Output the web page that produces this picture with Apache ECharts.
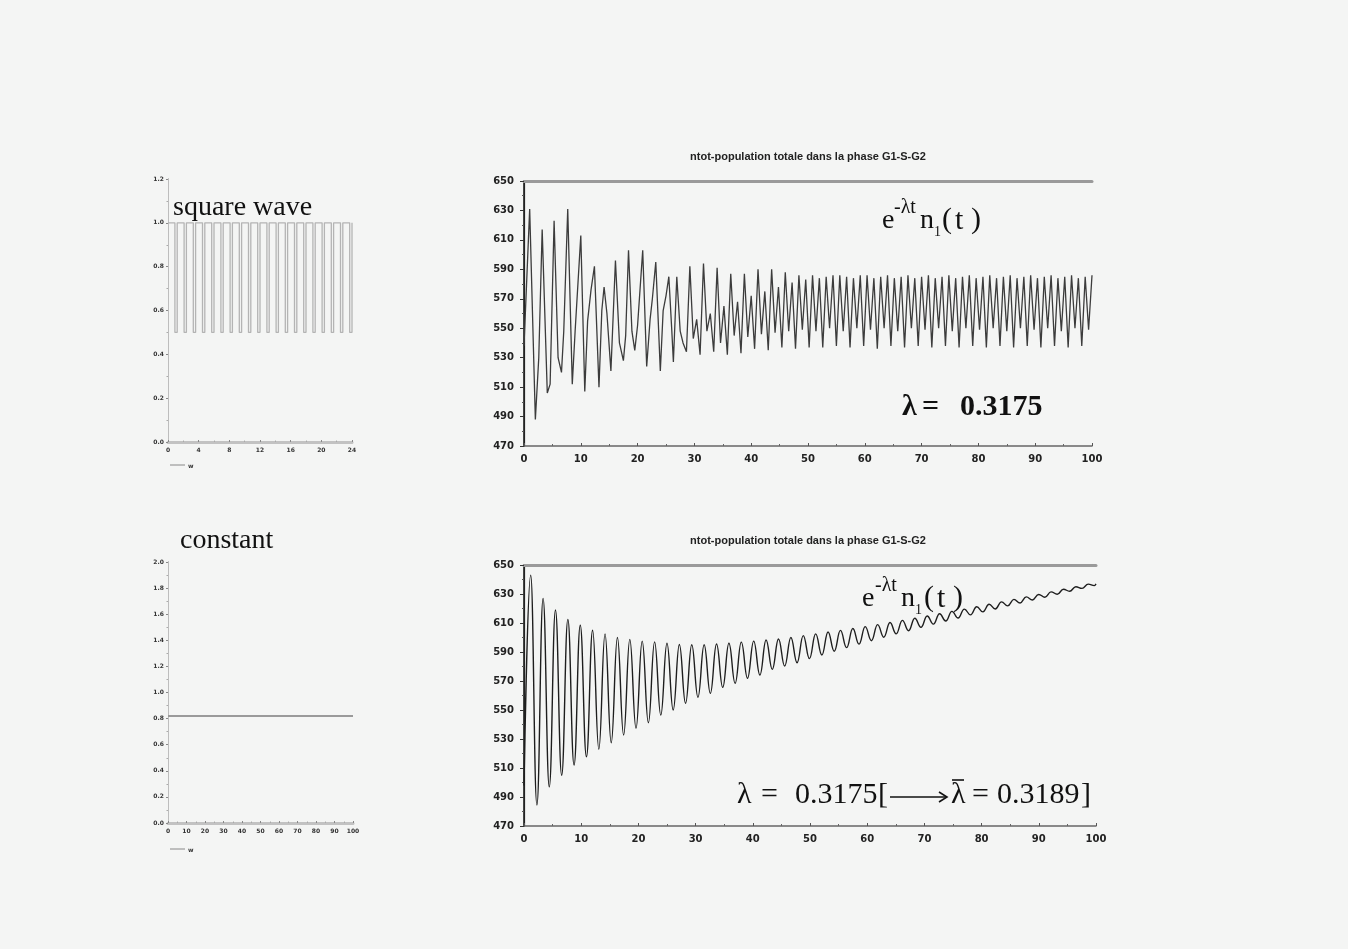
<!DOCTYPE html>
<html>
<head>
<meta charset="utf-8">
<script src="https://cdn.jsdelivr.net/npm/echarts@6/dist/echarts.min.js"></script>
<style>
  html, body { margin: 0; padding: 0; background: #f4f5f4; }
  #chart { width: 1348px; height: 949px; }
</style>
</head>
<body>
<div id="chart"></div>
<script>
// ---------- data ----------
// forcing signal: square wave sampled every 0.3 time units over [0, 24]
const squareStep = 0.3;
const squareLevels = [
  1,1,1,0.5, 1,1,1,0.5, 1,1,1,0.5, 1,1,1,0.5, 1,1,1,0.5,
  1,1,1,0.5, 1,1,1,0.5, 1,1,1,0.5, 1,1,1,0.5, 1,1,1,0.5,
  1,1,1,0.5, 1,1,1,0.5, 1,1,1,0.5, 1,1,1,0.5, 1,1,1,0.5,
  1,1,1,0.5, 1,1,1,0.5, 1,1,1,0.5, 1,1,1,0.5, 1,1,1,0.5,
  1
];
// constant forcing
const constantLevel = 0.82;

// e^{-lambda t} n1(t) under the square-wave forcing
// first part: irregular turning points [t, value]
const topEarly = [
  [0,538],[1.0,631],[2.0,488],[2.6,530],[3.2,617],[4.1,506],[4.6,512],[5.3,623],
  [6.0,530],[6.6,520],[7.0,548],[7.7,631],[8.5,512],[9.0,548],[10.0,613],[10.7,507],
  [11.2,555],[11.8,576],[12.4,592],[13.2,510],[13.7,562],[14.1,578],[14.6,560],[15.3,521],
  [16.1,596],[16.8,540],[17.5,528],[17.9,545],[18.4,603],[19.0,548],[19.5,535],[20.0,552],
  [20.9,603],[21.6,524],[22.2,556],[22.6,570],[23.2,595],[24.0,521],[24.5,562],[25.0,572],
  [25.5,585],[26.0,550],[26.3,527],[26.9,585],[27.5,548],[28.0,540],[28.6,534]
];
// second part: values every 0.6 time units starting at t = 29.2
// (main peak, low, secondary peak, low) repeating
const topGridStart = 29.2;
const topGridStep = 0.6;
const topGridValues = [
  592,543,556,532, 594,548,560,534, 591,540,565,532, 587,545,568,533,
  587,544,572,536, 590,546,575,535, 590,547,578,537, 588,548,581,536,
  586,549,583,537, 586,548,584,537, 585,550,586,538, 586,548,585,537,
  584,550,586,538, 586,549,584,536, 585,550,586,538, 584,548,585,537,
  586,550,584,538, 585,549,586,537, 584,550,585,538, 586,548,584,537,
  585,550,586,538, 584,549,585,537, 586,550,584,538, 585,548,586,537,
  584,550,585,538, 586,549,584,537, 585,550,586,538, 584,548,585,537,
  586,550,584,538, 585,549,586
];

// e^{-lambda t} n1(t) under the constant forcing
const botStart = [0, 498];
const botFirstT = 1.17;      // first maximum
const botHalfPeriod = 1.083; // spacing between successive extrema
const botExtrema = [
  643,484.5, 627,497, 619,505, 612.5,512, 608.5,517.8, 605,522.9, 602.5,527.4, 600,532.8,
  598.7,537.4, 597.5,541.2, 597,546.5, 596,550, 595.2,554.6, 595,558.8, 595,561.5, 595.5,565.6,
  596,568.4, 596.8,571.9, 597.5,574.1, 598.3,578, 599,580.3, 600,582.6, 601.3,585.4, 602.5,587.9,
  603.8,590.5, 604.9,593, 606.2,595.4, 607.5,597.8, 608.9,600.2, 610.3,602.5, 611.8,604.7, 613.3,607,
  614.8,609.2, 616.4,611.4, 618,613.4, 619.6,615.6, 621.2,617.7, 622.9,619.7, 624.6,621.8, 626.3,623.8,
  628,625.9, 629.7,627.8, 631.5,629.8, 633.3,631.9, 635,633.9, 636.8,635.8
];
const botEnd = [100, 637];

// axis ticks
const smallTopX = { min: 0, max: 24, interval: 4 };
const smallTopY = { min: 0, max: 1.2, interval: 0.2 };
const smallBotX = { min: 0, max: 100, interval: 10 };
const smallBotY = { min: 0, max: 2, interval: 0.2 };
const bigX = { min: 0, max: 100, interval: 10 };
const bigY = { min: 470, max: 650, interval: 20 };

const plotTitle = 'ntot-population totale dans la phase G1-S-G2';

// ---------- series construction ----------
const squareData = squareLevels.map((v, i) => [+(i * squareStep).toFixed(2), v]);
const constantData = [[0, constantLevel], [100, constantLevel]];
const topData = topEarly.concat(
  topGridValues.map((v, i) => [+(topGridStart + i * topGridStep).toFixed(2), v])
);
const botData = [botStart].concat(
  botExtrema.map((v, i) => [+(botFirstT + i * botHalfPeriod).toFixed(3), v]),
  [botEnd]
);

// ---------- axes helpers ----------
function smallX(grid, r) {
  return {
    type: 'value', gridIndex: grid, min: r.min, max: r.max, interval: r.interval,
    axisLine: { lineStyle: { color: '#8a8a8a', width: 1 } },
    axisTick: { inside: true, length: 2, lineStyle: { color: '#888' } },
    minorTick: { show: true, splitNumber: 2, length: 1.5, lineStyle: { color: '#aaa' } },
    axisLabel: { fontSize: 6, color: '#333', margin: 5, fontFamily: 'DejaVu Sans', fontWeight: 'bold',
                 formatter: v => String(v) },
    splitLine: { show: false }
  };
}
function smallY(grid, r) {
  return {
    type: 'value', gridIndex: grid, min: r.min, max: r.max, interval: r.interval,
    axisLine: { show: true, lineStyle: { color: '#8a8a8a', width: 1 } },
    axisTick: { show: true, inside: false, length: 2, lineStyle: { color: '#888' } },
    minorTick: { show: true, splitNumber: 2, length: 1.5, lineStyle: { color: '#aaa' } },
    axisLabel: { fontSize: 6, color: '#333', margin: 4, fontFamily: 'DejaVu Sans', fontWeight: 'bold',
                 formatter: v => v.toFixed(1) },
    splitLine: { show: false }
  };
}
function bigXAxis(grid) {
  return {
    type: 'value', gridIndex: grid, min: bigX.min, max: bigX.max, interval: bigX.interval,
    axisLine: { lineStyle: { color: '#666', width: 1.5 } },
    axisTick: { inside: true, length: 3, lineStyle: { color: '#555' } },
    minorTick: { show: true, splitNumber: 2, length: 2, lineStyle: { color: '#666' } },
    axisLabel: { fontSize: 10, color: '#222', margin: 8, fontFamily: 'DejaVu Sans', fontWeight: 'bold' },
    splitLine: { show: false }
  };
}
function bigYAxis(grid) {
  return {
    type: 'value', gridIndex: grid, min: bigY.min, max: bigY.max, interval: bigY.interval,
    axisLine: { show: true, lineStyle: { color: '#111', width: 1.5 } },
    axisTick: { show: true, length: 4, lineStyle: { color: '#333' } },
    minorTick: { show: true, splitNumber: 2, length: 2, lineStyle: { color: '#555' } },
    axisLabel: { fontSize: 10, color: '#222', margin: 10, fontFamily: 'DejaVu Sans', fontWeight: 'bold' },
    splitLine: { show: false }
  };
}
function frameX(grid, r, color, width) {
  return {
    type: 'value', gridIndex: grid, position: 'top', min: r.min, max: r.max,
    axisLine: { lineStyle: { color: color, width: width } },
    axisTick: { show: false }, axisLabel: { show: false }, splitLine: { show: false }
  };
}
function frameY(grid, r, color, width) {
  return {
    type: 'value', gridIndex: grid, position: 'right', min: r.min, max: r.max,
    axisLine: { show: true, lineStyle: { color: color, width: width } },
    axisTick: { show: false }, axisLabel: { show: false }, splitLine: { show: false }
  };
}

// ---------- text helpers ----------
const SERIF = '"Liberation Serif", "DejaVu Serif", serif';
function txt(x, y, s, size, opts) {
  opts = opts || {};
  return {
    type: 'text', x: x, y: y, z: 100,
    style: {
      text: s,
      font: (opts.weight || 'normal') + ' ' + size + 'px ' + (opts.family || SERIF),
      fill: opts.fill || '#111',
      align: opts.align || 'left',
      verticalAlign: 'middle'
    }
  };
}
function seg(x1, y1, x2, y2, color, w) {
  return { type: 'line', z: 100, shape: { x1: x1, y1: y1, x2: x2, y2: y2 },
           style: { stroke: color || '#111', lineWidth: w || 1.5 } };
}

const graphics = [
  // plot titles
  txt(808, 157, plotTitle, 11, { weight: 'bold', family: '"Liberation Sans", Arial, sans-serif', align: 'center', fill: '#222' }),
  txt(808, 541, plotTitle, 11, { weight: 'bold', family: '"Liberation Sans", Arial, sans-serif', align: 'center', fill: '#222' }),

  // forcing captions
  txt(173, 208, 'square wave', 28),
  txt(180, 541, 'constant', 28),

  // small legend marks under the forcing plots
  seg(170, 465, 185, 465, '#888', 1),
  txt(188, 466, 'w', 6, { weight: 'bold', family: 'DejaVu Sans', fill: '#333' }),
  seg(170, 849, 185, 849, '#888', 1),
  txt(188, 850, 'w', 6, { weight: 'bold', family: 'DejaVu Sans', fill: '#333' }),

  // e^{-λt} n1(t), upper plot
  txt(882, 221, 'e', 28),
  txt(894, 208, '-λt', 20),
  txt(920, 221, 'n', 28),
  txt(934, 232, '1', 14),
  txt(942, 220, '(', 30),
  txt(955, 221, 't', 30),
  txt(971, 220, ')', 30),

  // λ = 0.3175, upper plot
  txt(902, 407, 'λ', 30, { weight: 'bold' }),
  txt(922, 407, '=', 30, { weight: 'bold' }),
  txt(960, 407, '0.3175', 30, { weight: 'bold' }),

  // e^{-λt} n1(t), lower plot
  txt(862, 599, 'e', 28),
  txt(875, 586, '-λt', 20),
  txt(901, 599, 'n', 28),
  txt(915, 610, '1', 14),
  txt(924, 598, '(', 30),
  txt(937, 599, 't', 30),
  txt(953, 598, ')', 30),

  // λ = 0.3175[ ⟶ λ̄ = 0.3189 ], lower plot
  txt(737, 795, 'λ', 30),
  txt(761, 795, '=', 30),
  txt(795, 795, '0.3175', 30),
  txt(878, 795, '[', 30),
  seg(890, 797, 946, 797, '#111', 1.6),
  { type: 'polyline', z: 100, shape: { points: [[939, 792], [947, 797], [939, 802]] },
    style: { stroke: '#111', lineWidth: 1.6, fill: null } },
  txt(951, 795, 'λ', 30),
  seg(952, 780, 964, 780, '#111', 1.6),
  txt(972, 795, '=', 30),
  txt(997, 795, '0.3189', 30),
  txt(1081, 795, ']', 30)
];

// ---------- chart ----------
const chart = echarts.init(document.getElementById('chart'), null, { renderer: 'canvas' });
chart.setOption({
  backgroundColor: '#f4f5f4',
  animation: false,
  grid: [
    { left: 168, top: 179, width: 184, height: 263 },
    { left: 524, top: 181, width: 568, height: 265 },
    { left: 168, top: 562, width: 185, height: 261 },
    { left: 524, top: 565, width: 572, height: 261 }
  ],
  xAxis: [
    smallX(0, smallTopX),
    frameX(0, smallTopX, '#c2c2c2', 3),
    bigXAxis(1),
    frameX(1, bigX, '#9a9a9a', 3),
    smallX(2, smallBotX),
    frameX(2, smallBotX, '#c2c2c2', 3),
    bigXAxis(3),
    frameX(3, bigX, '#9a9a9a', 3)
  ],
  yAxis: [
    smallY(0, smallTopY),
    frameY(0, smallTopY, '#bdbdbd', 1),
    bigYAxis(1),
    frameY(1, bigY, '#222', 1.2),
    smallY(2, smallBotY),
    frameY(2, smallBotY, '#bdbdbd', 1),
    bigYAxis(3),
    frameY(3, bigY, '#222', 1.2)
  ],
  series: [
    {
      name: 'square wave', type: 'line', xAxisIndex: 0, yAxisIndex: 0,
      data: squareData, step: 'end', symbol: 'none',
      lineStyle: { color: '#b4b4b4', width: 1.3 }
    },
    {
      name: 'n1 square', type: 'line', xAxisIndex: 2, yAxisIndex: 2,
      data: topData, symbol: 'none',
      lineStyle: { color: '#3c3c3c', width: 1.3 }
    },
    {
      name: 'constant', type: 'line', xAxisIndex: 4, yAxisIndex: 4,
      data: constantData, symbol: 'none',
      lineStyle: { color: '#9a9a9a', width: 2 }
    },
    {
      name: 'n1 constant', type: 'line', xAxisIndex: 6, yAxisIndex: 6,
      data: botData, symbol: 'none', smooth: 0.45, smoothMonotone: 'x',
      lineStyle: { color: '#1e1e1e', width: 1.4 }
    }
  ],
  graphic: graphics
});
</script>
</body>
</html>
